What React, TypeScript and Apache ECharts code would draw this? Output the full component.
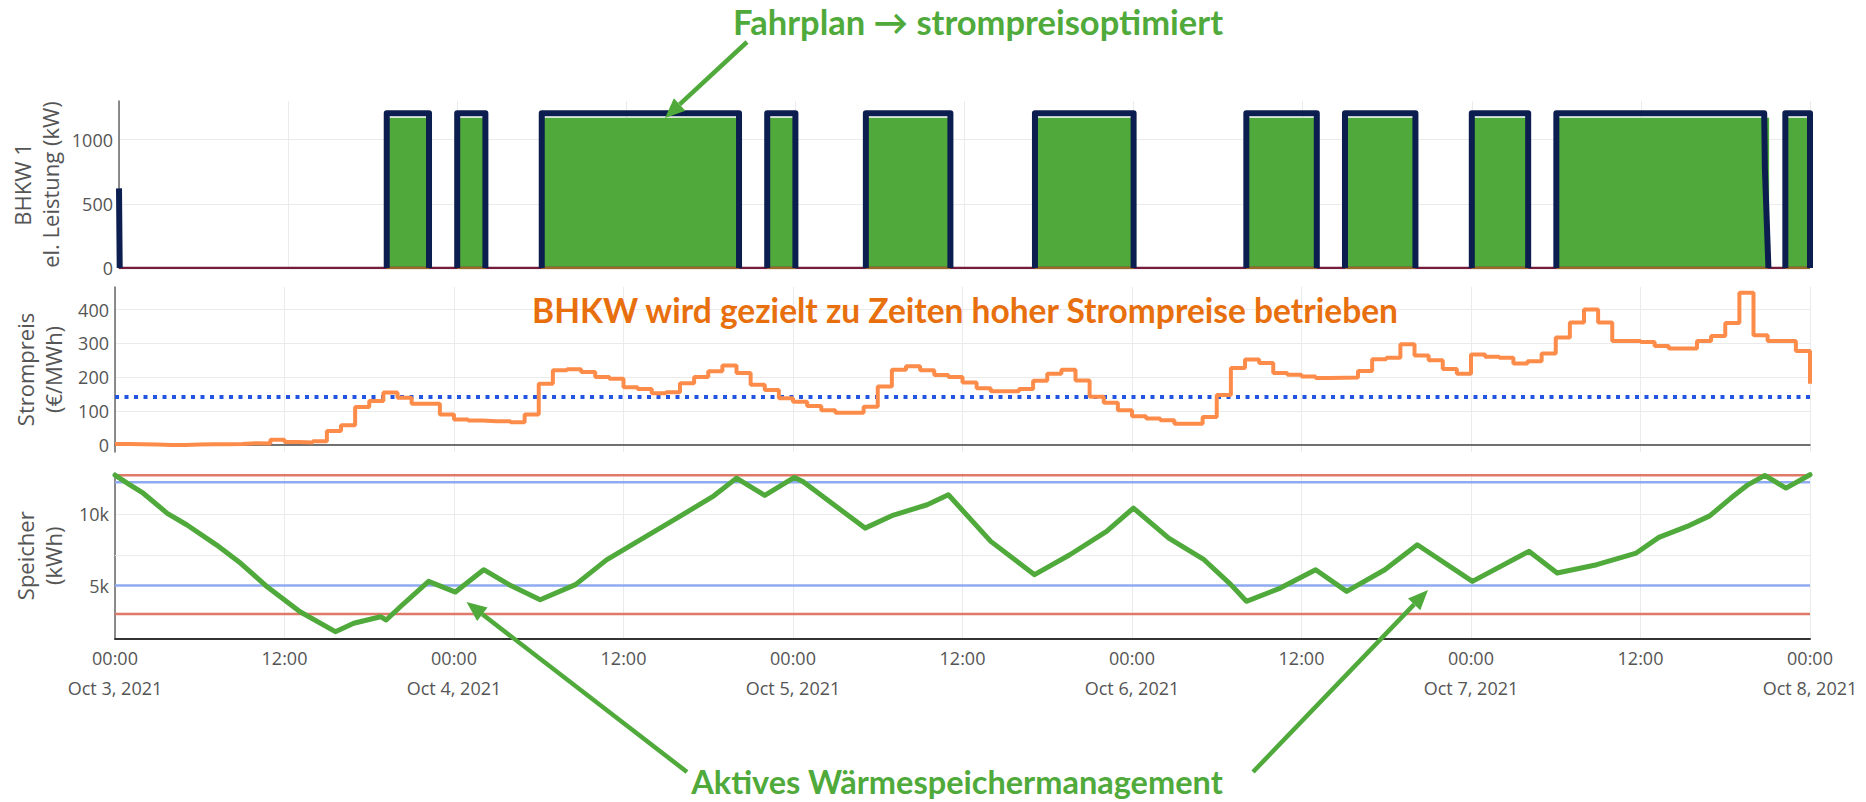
import React, { useEffect, useRef } from "react";
import * as echarts from "echarts";

// ---------- DATA ----------
const dayLabels = ["Oct 3, 2021", "Oct 4, 2021", "Oct 5, 2021", "Oct 6, 2021", "Oct 7, 2021", "Oct 8, 2021"];
const totalHours = 120;

// BHKW 1 electrical output (kW): operating blocks in hours since Oct 3 00:00
const powerOnStart = [19, 24, 30, 46, 53, 65, 80, 87, 96, 102, 118.25];
const powerOnEnd = [22, 26, 44, 48, 59, 72, 85, 92, 100, 117, 120];
const powerLevel = 1205;
const scheduleLevel = 1170;
const startupValue = 620;
const partialLoadHours = [116.8, 117.05];
const partialLoadValues = [770, 0];

// Strompreis (€/MWh), hourly, h = 0..119, plus the closing value at h = 120
const priceHourly = [
  2, 1, 0, -1, -1, 0, 1, 1, 2, 4, 3, 14, 8, 6, 10, 40, 57, 111, 129, 154, 139, 121, 121, 89,
  74, 71, 69, 69, 66, 89, 180, 220, 223, 215, 200, 195, 170, 165, 152, 155, 182, 200, 217, 234,
  212, 177, 162, 137, 127, 114, 102, 94, 94, 112, 172, 222, 232, 220, 206, 200, 184, 167, 158, 158,
  165, 189, 210, 222, 190, 142, 124, 102, 84, 77, 72, 62, 62, 82, 147, 227, 252, 242, 212, 207,
  202, 197, 198, 199, 218, 253, 257, 297, 264, 250, 224, 210, 267, 260, 257, 240, 247, 270, 317, 362,
  400, 362, 307, 307, 304, 292, 285, 285, 307, 322, 360, 450, 324, 307, 307, 277,
];
const priceFinal = 180;
const priceAverage = 141;

// Speicher (kWh)
const storageHours = [
  0, 1.0, 2.0, 3.7, 5.1, 7.2, 8.9, 10.7, 13.1, 15.6, 16.9, 18.8, 19.2, 20.2, 22.2, 24.1, 26.1, 27.9,
  30.1, 32.6, 34.8, 37.6, 39.9, 42.4, 44.0, 46.0, 48.1, 48.7, 53.1, 55.0, 57.5, 59.0, 62.0, 65.1,
  67.6, 70.2, 72.1, 74.6, 77.1, 79.0, 80.1, 82.5, 85.0, 87.2, 89.9, 92.2, 96.1, 100.1, 102.1, 104.9,
  107.7, 109.3, 111.3, 112.9, 114.4, 115.6, 116.8, 118.3, 120,
];
const storageValues = [
  12750, 12100, 11480, 10070, 9250, 7840, 6560, 4970, 3160, 1760, 2350, 2810, 2580, 3510, 5290, 4540,
  6110, 5060, 4000, 5060, 6800, 8450, 9800, 11300, 12540, 11330, 12590, 12310, 9030, 9900, 10670,
  11370, 8100, 5760, 7160, 8800, 10440, 8330, 6810, 5060, 3890, 4820, 6110, 4590, 6110, 7860, 5290,
  7400, 5880, 6460, 7280, 8380, 9150, 9890, 11140, 12070, 12730, 11840, 12780,
];
const storageMaxLimit = 12750;
const storageUpperTarget = 12250;
const storageLowerTarget = 5000;
const storageMinLimit = 3000;
const storageGuide = 7100;

// ---------- STYLE ----------
const GREEN = "#4faa3b";
const NAVY = "#0c1e4f";
const ORANGE_LINE = "#fd8c4b";
const ORANGE_TEXT = "#e86f0d";
const BLUE_DOT = "#2256e0";
const RED_LIMIT = "#e07a68";
const BLUE_LIMIT = "#8eaaf0";
const GRID = "#ebebeb";
const TICK = "#555";
const FONT = "'Open Sans', 'Noto Sans', sans-serif";
const ANNOT_FONT = "Lato, 'Open Sans', sans-serif";

const GAP: any = "-";

function buildSchedule() {
  const d: any[] = [];
  powerOnStart.forEach((s, i) => {
    const e = powerOnEnd[i] + (i === 9 ? 0.1 : 0);
    d.push([s, 0], [s, scheduleLevel], [e, scheduleLevel], [e, 0]);
  });
  return d;
}

function buildPower() {
  const d: any[] = [[0, startupValue], [0.05, 0], [0.1, GAP]];
  powerOnStart.forEach((s, i) => {
    const e = powerOnEnd[i];
    if (e >= partialLoadHours[0] && s < partialLoadHours[0]) {
      d.push([s, 0], [s, powerLevel], [partialLoadHours[0] - 0.05, powerLevel]);
      partialLoadHours.forEach((h, k) => d.push([h, partialLoadValues[k]]));
    } else {
      d.push([s, 0], [s, powerLevel], [e, powerLevel], [e, 0]);
    }
    d.push([e + 0.01, GAP]);
  });
  return d;
}

function buildZeroUnderBlocks() {
  const d: any[] = [];
  powerOnStart.forEach((s, i) => {
    d.push([s, 0], [powerOnEnd[i], 0], [powerOnEnd[i] + 0.01, GAP]);
  });
  return d;
}

function hline(v: number) {
  return [[0, v], [totalHours, v]];
}

function arrow(x1: number, y1: number, x2: number, y2: number) {
  const len = Math.hypot(x2 - x1, y2 - y1);
  const ux = (x2 - x1) / len;
  const uy = (y2 - y1) / len;
  const L = 20;
  const W = 8.5;
  const bx = x2 - ux * L;
  const by = y2 - uy * L;
  const nx = -uy;
  const ny = ux;
  return [
    {
      type: "line",
      shape: { x1, y1, x2: bx, y2: by },
      style: { stroke: GREEN, lineWidth: 4.5 },
      z: 100,
    },
    {
      type: "polygon",
      shape: { points: [[x2, y2], [bx + nx * W, by + ny * W], [bx - nx * W, by - ny * W]] },
      style: { fill: GREEN },
      z: 100,
    },
  ];
}

function annotation(text: string, x: number, y: number, size: number, color: string) {
  return {
    type: "text",
    x,
    y,
    z: 100,
    style: {
      text,
      fill: color,
      fontFamily: ANNOT_FONT,
      fontWeight: "bold",
      fontSize: size,
      align: "center",
      verticalAlign: "middle",
    },
  };
}

export default function App() {
  const ref = useRef<HTMLDivElement>(null);

  useEffect(() => {
    document.body.style.margin = "0";
    if (!ref.current) return;
    const chart = echarts.init(ref.current, undefined, { renderer: "svg" });

    const left = 115;
    const width = 1695;
    const grids = [
      { left, width, top: 101, height: 167 },
      { left, width, top: 287, height: 165 },
      { left, width, top: 473, height: 165.5 },
    ];

    const xBase = (i: number) => ({
      type: "value",
      gridIndex: i,
      min: 0,
      max: totalHours,
      interval: 12,
      axisTick: { show: false },
      splitLine: { show: true, lineStyle: { color: GRID, width: 1 } },
    });

    const yLabel = { fontSize: 18, color: TICK, fontFamily: FONT, margin: 6 };
    const yName = { fontSize: 22, lineHeight: 28, color: TICK, fontFamily: FONT };
    const yLine = { show: true, lineStyle: { color: "#666", width: 1.5 } };

    const option: any = {
      animation: false,
      grid: grids,
      xAxis: [
        { ...xBase(0), axisLine: { show: false }, axisLabel: { show: false } },
        {
          ...xBase(1),
          axisLine: { show: true, onZero: true, lineStyle: { color: "#444", width: 1.5 } },
          axisLabel: { show: false },
        },
        {
          ...xBase(2),
          axisLine: { show: true, onZero: false, lineStyle: { color: "#333", width: 2 } },
          axisLabel: {
            color: TICK,
            fontSize: 18,
            fontFamily: FONT,
            lineHeight: 30,
            margin: 4,
            formatter: (v: number) =>
              v % 24 === 0 ? `00:00\n${dayLabels[v / 24]}` : "12:00",
          },
        },
      ],
      yAxis: [
        {
          type: "value",
          gridIndex: 0,
          min: 0,
          max: 1300,
          interval: 500,
          axisLine: yLine,
          axisTick: { show: false },
          axisLabel: { ...yLabel, showMaxLabel: false, formatter: (v: number) => String(v) },
          splitLine: { show: true, showMaxLine: false, lineStyle: { color: GRID } },
          name: "BHKW 1\nel. Leistung (kW)",
          nameLocation: "middle",
          nameRotate: 90,
          nameGap: 55,
          nameMoveOverlap: false,
          nameTextStyle: yName,
        },
        {
          type: "value",
          gridIndex: 1,
          min: -22,
          max: 467,
          splitNumber: 5,
          axisLine: yLine,
          axisTick: { show: false },
          axisLabel: { ...yLabel, showMinLabel: false, showMaxLabel: false, formatter: (v: number) => String(v) },
          splitLine: { show: true, showMinLine: false, showMaxLine: false, lineStyle: { color: GRID } },
          name: "Strompreis\n(€/MWh)",
          nameLocation: "middle",
          nameRotate: 90,
          nameGap: 48,
          nameMoveOverlap: false,
          nameTextStyle: yName,
        },
        {
          type: "value",
          gridIndex: 2,
          min: 1280,
          max: 12900,
          splitNumber: 2,
          axisLine: yLine,
          axisTick: { show: false },
          axisLabel: {
            ...yLabel,
            showMinLabel: false,
            showMaxLabel: false,
            formatter: (v: number) => `${v / 1000}k`,
          },
          splitLine: { show: true, showMinLine: false, showMaxLine: false, lineStyle: { color: GRID } },
          name: "Speicher\n(kWh)",
          nameLocation: "middle",
          nameRotate: 90,
          nameGap: 48,
          nameMoveOverlap: false,
          nameTextStyle: yName,
        },
      ],
      series: [
        {
          name: "Fahrplan",
          type: "line",
          xAxisIndex: 0,
          yAxisIndex: 0,
          data: buildSchedule(),
          showSymbol: false,
          lineStyle: { width: 0 },
          areaStyle: { color: GREEN, opacity: 1 },
          z: 2,
        },
        {
          name: "BHKW 2",
          type: "line",
          xAxisIndex: 0,
          yAxisIndex: 0,
          data: hline(0),
          showSymbol: false,
          lineStyle: { color: "#741d3d", width: 2.5 },
          z: 3,
        },
        {
          name: "Kessel",
          type: "line",
          xAxisIndex: 0,
          yAxisIndex: 0,
          data: buildZeroUnderBlocks(),
          showSymbol: false,
          connectNulls: false,
          lineStyle: { color: "#9a6a2a", width: 2.5 },
          z: 3,
        },
        {
          name: "BHKW 1",
          type: "line",
          xAxisIndex: 0,
          yAxisIndex: 0,
          data: buildPower(),
          showSymbol: false,
          connectNulls: false,
          lineStyle: { color: NAVY, width: 6, join: "round" },
          z: 4,
        },
        {
          name: "Durchschnitt",
          type: "line",
          xAxisIndex: 1,
          yAxisIndex: 1,
          data: hline(priceAverage),
          showSymbol: false,
          lineStyle: { color: BLUE_DOT, width: 4, type: [4, 5.5], cap: "butt" },
          z: 2,
        },
        {
          name: "Strompreis",
          type: "line",
          xAxisIndex: 1,
          yAxisIndex: 1,
          step: "end",
          data: [...priceHourly.map((v, h) => [h, v]), [totalHours, priceFinal]],
          showSymbol: false,
          lineStyle: { color: ORANGE_LINE, width: 4 },
          z: 3,
        },
        {
          name: "guide",
          type: "line",
          xAxisIndex: 2,
          yAxisIndex: 2,
          data: hline(storageGuide),
          showSymbol: false,
          lineStyle: { color: GRID, width: 1 },
          z: 1,
        },
        ...[storageMaxLimit, storageMinLimit].map((v) => ({
          name: "Grenze",
          type: "line",
          xAxisIndex: 2,
          yAxisIndex: 2,
          data: hline(v),
          showSymbol: false,
          lineStyle: { color: RED_LIMIT, width: 2.5 },
          z: 2,
        })),
        ...[storageUpperTarget, storageLowerTarget].map((v) => ({
          name: "Ziel",
          type: "line",
          xAxisIndex: 2,
          yAxisIndex: 2,
          data: hline(v),
          showSymbol: false,
          lineStyle: { color: BLUE_LIMIT, width: 2.5 },
          z: 2,
        })),
        {
          name: "Speicher",
          type: "line",
          xAxisIndex: 2,
          yAxisIndex: 2,
          data: storageHours.map((h, i) => [h, storageValues[i]]),
          showSymbol: false,
          lineStyle: { color: GREEN, width: 5, join: "round", cap: "round" },
          z: 5,
        },
      ],
      graphic: [
        annotation("Fahrplan → strompreisoptimiert", 978, 21, 34.5, GREEN),
        annotation("BHKW wird gezielt zu Zeiten hoher Strompreise betrieben", 965, 310, 33.5, ORANGE_TEXT),
        annotation("Aktives Wärmespeichermanagement", 957, 781, 32.5, GREEN),
        ...arrow(747, 42, 665, 118),
        ...arrow(687, 772, 466.5, 602),
        ...arrow(1253, 772, 1428, 590),
      ],
    };

    chart.setOption(option);
    return () => chart.dispose();
  }, []);

  return <div ref={ref} style={{ width: 1866, height: 802 }} />;
}
